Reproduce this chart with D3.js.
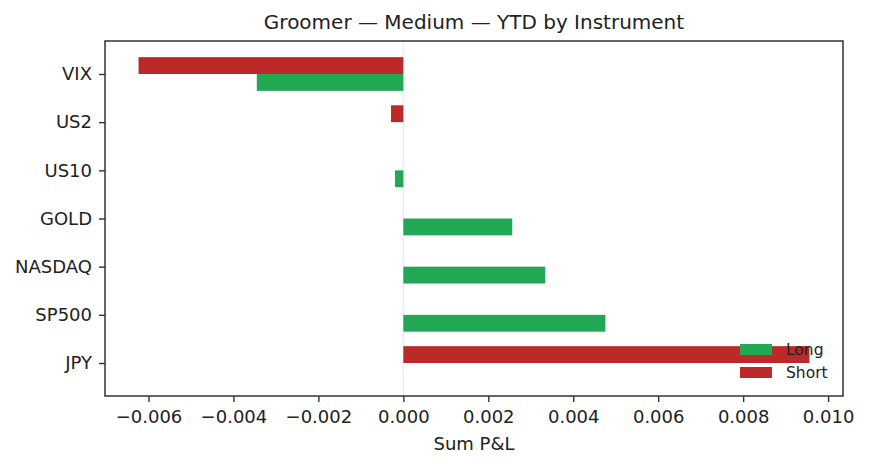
<!DOCTYPE html>
<html>
<head>
<meta charset="utf-8">
<script src="https://cdn.jsdelivr.net/npm/d3@7"></script>
<style>
  html, body { margin: 0; padding: 0; background: #fff; }
  svg { display: block; font-family: "DejaVu Sans", sans-serif; }
</style>
</head>
<body>
<svg id="chart" width="871" height="469"></svg>
<script>
// ---- data ----
const categories = ["VIX", "US2", "US10", "GOLD", "NASDAQ", "SP500", "JPY"];
const seriesNames = ["Long", "Short"];
const longValues  = [-0.00345, 0, -0.000196, 0.002564, 0.003342, 0.004757, 0];
const shortValues = [-0.006234, -0.00029, 0, 0, 0, 0, 0.009561];
const xTicks = [-0.006, -0.004, -0.002, 0.000, 0.002, 0.004, 0.006, 0.008, 0.010];
const titleText = "Groomer — Medium — YTD by Instrument";
const xLabelText = "Sum P&L";

// ---- layout / style ----
const colors = { Long: "#22a854", Short: "#bb2929" };
const plot = { left: 105, right: 843, top: 41, bottom: 396 };
const barH = 0.35;

const svg = d3.select("#chart");

const all = longValues.concat(shortValues, [0]);
const mn = d3.min(all), mx = d3.max(all);
const pad = (mx - mn) * 0.05;
const x = d3.scaleLinear().domain([mn - pad, mx + pad]).range([plot.left, plot.right]);

const yExt = [-barH, categories.length - 1 + barH];
const yPad = (yExt[1] - yExt[0]) * 0.05;
const y = d3.scaleLinear().domain([yExt[0] - yPad, yExt[1] + yPad]).range([plot.top, plot.bottom]);

// zero line
svg.append("line")
  .attr("x1", x(0)).attr("x2", x(0))
  .attr("y1", plot.top).attr("y2", plot.bottom)
  .attr("stroke", "#e6e6e6").attr("stroke-width", 1);

// bars
const rows = categories.map((c, i) => ({ c, i, Long: longValues[i], Short: shortValues[i] }));
const g = svg.append("g");
rows.forEach(r => {
  // Short above center, Long below center
  g.append("rect")
    .attr("x", Math.min(x(0), x(r.Short)))
    .attr("width", Math.abs(x(r.Short) - x(0)))
    .attr("y", y(r.i - barH))
    .attr("height", y(r.i) - y(r.i - barH))
    .attr("fill", colors.Short);
  g.append("rect")
    .attr("x", Math.min(x(0), x(r.Long)))
    .attr("width", Math.abs(x(r.Long) - x(0)))
    .attr("y", y(r.i))
    .attr("height", y(r.i + barH) - y(r.i))
    .attr("fill", colors.Long);
});

// axes
const xAxis = d3.axisBottom(x).tickValues(xTicks).tickSize(6).tickPadding(8)
  .tickFormat(d => d3.format(".3f")(d).replace("-", "\u2212"));
const xg = svg.append("g").attr("transform", `translate(0,${plot.bottom})`).call(xAxis);
xg.select(".domain").remove();
xg.selectAll(".tick line").attr("stroke", "#333").attr("stroke-width", 1.4);
xg.selectAll(".tick text").attr("fill", "#222").style("font-size", "18px")
  .style("font-family", "DejaVu Sans, sans-serif");

const yAxis = d3.axisLeft(y).tickValues(categories.map((c, i) => i)).tickSize(6).tickPadding(7)
  .tickFormat(i => categories[i]);
const yg = svg.append("g").attr("transform", `translate(${plot.left},0)`).call(yAxis);
yg.select(".domain").remove();
yg.selectAll(".tick line").attr("stroke", "#333").attr("stroke-width", 1.4);
yg.selectAll(".tick text").attr("fill", "#222").style("font-size", "18px")
  .style("font-family", "DejaVu Sans, sans-serif");

// frame
svg.append("rect")
  .attr("x", plot.left).attr("y", plot.top)
  .attr("width", plot.right - plot.left).attr("height", plot.bottom - plot.top)
  .attr("fill", "none").attr("stroke", "#333").attr("stroke-width", 1.5);

// title and label
svg.append("text").attr("x", (plot.left + plot.right) / 2).attr("y", 29)
  .attr("text-anchor", "middle").attr("fill", "#222").style("font-size", "20px")
  .text(titleText);
svg.append("text").attr("x", (plot.left + plot.right) / 2).attr("y", 450)
  .attr("text-anchor", "middle").attr("fill", "#222").style("font-size", "18px")
  .text(xLabelText);

// legend (no frame)
const leg = svg.append("g").attr("transform", "translate(740,344)");
seriesNames.forEach((n, k) => {
  const gy = k * 23;
  leg.append("rect").attr("x", 0).attr("y", gy).attr("width", 32).attr("height", 11)
    .attr("fill", colors[n]);
  leg.append("text").attr("x", 46).attr("y", gy + 5.5).attr("dy", "0.35em")
    .attr("fill", "#222").style("font-size", "15.5px").text(n);
});
</script>
</body>
</html>
